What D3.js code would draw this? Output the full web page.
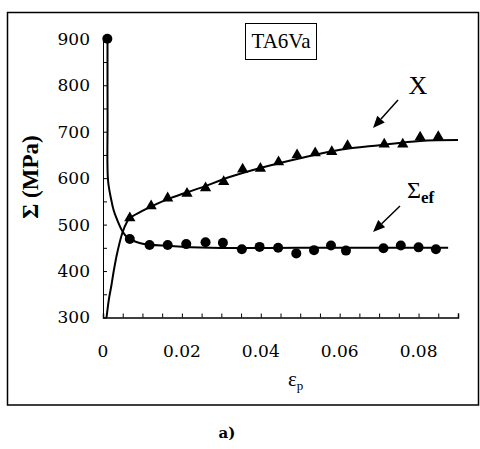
<!DOCTYPE html>
<html>
<head>
<meta charset="utf-8">
<script src="https://cdn.jsdelivr.net/npm/d3@7"></script>
<style>
  body { margin: 0; background: #fff; }
  svg { display: block; }
</style>
</head>
<body>
<div id="chart"></div>
<script>
// measured points, Sigma_ef (circles)
var sefX = [0.0011, 0.0068, 0.0118, 0.0164, 0.0211, 0.026, 0.0304, 0.0352, 0.0397, 0.0444, 0.049, 0.0535, 0.0578, 0.0616, 0.0711, 0.0755, 0.080, 0.0844];
var sefY = [900, 469, 456, 456, 458, 462, 461, 447, 452, 450, 438, 445, 455, 444, 449, 455, 451, 447];

// measured points, X (triangles)
var xX = [0.0068, 0.0122, 0.0164, 0.0213, 0.026, 0.0306, 0.0354, 0.0399, 0.0445, 0.0492, 0.0538, 0.058, 0.062, 0.0713, 0.076, 0.0804, 0.085];
var xY = [514, 540, 557, 567, 579, 592, 619, 621, 635, 650, 654, 657, 670, 673, 673, 688, 689];

// model curves
var sefFitX = [0.00114, 0.00116, 0.00127, 0.0021, 0.0027, 0.0036, 0.0049, 0.0061, 0.0095, 0.0171, 0.0272, 0.05, 0.0875];
var sefFitY = [900, 725, 596, 553, 531, 510, 486, 473, 460, 454, 450, 450, 450];
var xFitX = [0.0009, 0.00147, 0.00215, 0.0027, 0.0036, 0.0049, 0.0061, 0.0067, 0.012, 0.0171, 0.0247, 0.0323, 0.0399, 0.05, 0.0601, 0.0701, 0.0804, 0.09];
var xFitY = [300, 338, 370, 399, 439, 482, 506, 513, 538, 557, 579, 603, 622, 643, 661, 671, 680, 682];

var xTickLabels = [0, 0.02, 0.04, 0.06, 0.08];
var yTickLabels = [300, 400, 500, 600, 700, 800, 900];

var width = 480, height = 449;

var svg = d3.select("#chart").append("svg")
  .attr("width", width)
  .attr("height", height);

// outer frame
svg.append("rect")
  .attr("x", 7.5).attr("y", 12.5)
  .attr("width", 471).attr("height", 392.5)
  .attr("fill", "none").attr("stroke", "#000").attr("stroke-width", 1.5);

var x = d3.scaleLinear().domain([0, 0.09]).range([103, 458]);
var y = d3.scaleLinear().domain([300, 900]).range([317.5, 38.8]);

// x axis, ticks every 0.005 pointing up
var xAxis = d3.axisBottom(x)
  .tickValues(d3.range(0, 0.0901, 0.005))
  .tickSizeInner(-4).tickSizeOuter(-4)
  .tickFormat("");
svg.append("g")
  .attr("transform", "translate(0," + y(300) + ")")
  .call(xAxis)
  .call(function(g) {
    g.select(".domain").attr("stroke-width", 1.5);
  });

// y axis, ticks every 50 pointing right
var yAxis = d3.axisLeft(y)
  .tickValues(d3.range(300, 901, 50))
  .tickSizeInner(-4).tickSizeOuter(0)
  .tickFormat("");
svg.append("g")
  .attr("transform", "translate(" + x(0) + ",0)")
  .call(yAxis);

// tick labels
svg.selectAll(".xlab")
  .data(xTickLabels)
  .enter().append("text")
  .attr("x", function(d) { return x(d); })
  .attr("y", 357)
  .attr("text-anchor", "middle")
  .style("font-family", "DejaVu Serif")
  .style("font-size", "17px")
  .text(function(d) { return d === 0 ? "0" : d.toFixed(2); });

svg.selectAll(".ylab")
  .data(yTickLabels)
  .enter().append("text")
  .attr("x", 90)
  .attr("y", function(d) { return y(d); })
  .attr("dy", "0.35em")
  .attr("text-anchor", "end")
  .style("font-family", "DejaVu Serif")
  .style("font-size", "17px")
  .text(function(d) { return d; });

// axis titles
svg.append("text")
  .attr("transform", "translate(38,177) rotate(-90)")
  .attr("text-anchor", "middle")
  .style("font-family", "Liberation Serif")
  .style("font-weight", "bold")
  .style("font-size", "23px")
  .text("Σ (MPa)");

var xt = svg.append("text")
  .attr("x", 288).attr("y", 386)
  .style("font-family", "Liberation Serif")
  .style("font-size", "21px");
xt.append("tspan").text("ε");
xt.append("tspan").attr("dy", 4).style("font-size", "13px").text("p");

// curves
var line = d3.line()
  .x(function(d) { return x(d[0]); })
  .y(function(d) { return y(d[1]); })
  .curve(d3.curveCatmullRom.alpha(0.5));

svg.append("path")
  .datum(d3.zip(sefFitX, sefFitY))
  .attr("d", line)
  .attr("fill", "none").attr("stroke", "#000").attr("stroke-width", 2);

svg.append("path")
  .datum(d3.zip(xFitX, xFitY))
  .attr("d", line)
  .attr("fill", "none").attr("stroke", "#000").attr("stroke-width", 2);

// markers
svg.selectAll(".sef")
  .data(d3.zip(sefX, sefY))
  .enter().append("circle")
  .attr("cx", function(d) { return x(d[0]); })
  .attr("cy", function(d) { return y(d[1]); })
  .attr("r", 5)
  .attr("fill", "#000");

var tri = d3.symbol().type(d3.symbolTriangle).size(55);
svg.selectAll(".xm")
  .data(d3.zip(xX, xY))
  .enter().append("path")
  .attr("d", tri)
  .attr("transform", function(d) { return "translate(" + x(d[0]) + "," + y(d[1]) + ")"; })
  .attr("fill", "#000");

// TA6Va label box
svg.append("rect")
  .attr("x", 245.5).attr("y", 23.5)
  .attr("width", 71).attr("height", 36)
  .attr("fill", "#fff").attr("stroke", "#000").attr("stroke-width", 1);
svg.append("text")
  .attr("x", 281).attr("y", 48)
  .attr("text-anchor", "middle")
  .style("font-family", "Liberation Serif")
  .style("font-size", "21px")
  .text("TA6Va");

// curve labels with arrows
svg.append("text")
  .attr("x", 418).attr("y", 94)
  .attr("text-anchor", "middle")
  .style("font-family", "Liberation Serif")
  .style("font-size", "26px")
  .text("X");

var se = svg.append("text")
  .attr("x", 407).attr("y", 198)
  .style("font-family", "Liberation Serif")
  .style("font-size", "24px");
se.append("tspan").text("Σ");
se.append("tspan").attr("dy", 5).style("font-size", "17px").style("font-weight", "bold").text("ef");

function arrow(x1, y1, x2, y2) {
  var a = Math.atan2(y2 - y1, x2 - x1), len = 12, w = 5;
  var bx = x2 - len * Math.cos(a), by = y2 - len * Math.sin(a);
  svg.append("line")
    .attr("x1", x1).attr("y1", y1).attr("x2", bx).attr("y2", by)
    .attr("stroke", "#000").attr("stroke-width", 1.5);
  svg.append("path")
    .attr("d", "M" + x2 + "," + y2 +
      "L" + (bx + w * Math.sin(a)) + "," + (by - w * Math.cos(a)) +
      "L" + (bx - w * Math.sin(a)) + "," + (by + w * Math.cos(a)) + "Z")
    .attr("fill", "#000");
}
arrow(398, 100, 373, 128);
arrow(400, 206, 373, 232);

// panel caption
svg.append("text")
  .attr("x", 227).attr("y", 438)
  .attr("text-anchor", "middle")
  .style("font-family", "DejaVu Serif")
  .style("font-size", "15px")
  .style("font-weight", "bold")
  .text("a)");
</script>
</body>
</html>
